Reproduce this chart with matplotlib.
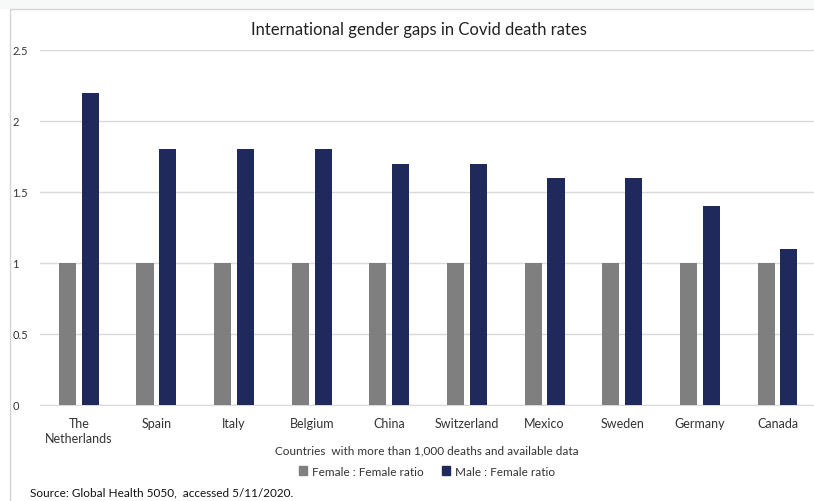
import numpy as np
import matplotlib.pyplot as plt
from matplotlib.patches import Patch, Rectangle

countries = ['The\nNetherlands', 'Spain', 'Italy', 'Belgium', 'China',
             'Switzerland', 'Mexico', 'Sweden', 'Germany', 'Canada']
female_ratio = [1, 1, 1, 1, 1, 1, 1, 1, 1, 1]
male_ratio = [2.2, 1.8, 1.8, 1.8, 1.7, 1.7, 1.6, 1.6, 1.4, 1.1]
yticks = [0, 0.5, 1, 1.5, 2, 2.5]
ytick_labels = ['0', '0.5', '1', '1.5', '2', '2.5']

plt.rcParams['font.family'] = ['Lato', 'DejaVu Sans']

gray = '#7f7f7f'
navy = '#1f295b'
grid_c = '#d9d9d9'

fig = plt.figure(figsize=(8.14, 5.02), dpi=100)

# light strip at the top and the chart border
fig.patches.append(Rectangle((0, 1 - 10 / 502), 1, 10 / 502, transform=fig.transFigure,
                             facecolor='#f7f9f9', edgecolor='none', zorder=0))
fig.patches.append(Rectangle((10 / 814, -0.01), 1.0, 1 - 10 / 502 + 0.01, transform=fig.transFigure,
                             facecolor='none', edgecolor='#d4d4d4', lw=1, zorder=1))

ax = fig.add_axes([40 / 814, 96 / 502, 774 / 814, 355 / 502])
x = np.arange(len(countries))
w = 0.22
ax.bar(x - 0.147, female_ratio, w, color=gray, label='Female : Female ratio', zorder=3)
ax.bar(x + 0.147, male_ratio, w, color=navy, label='Male : Female ratio', zorder=3)

ax.set_xlim(-0.5, 9.47)
ax.set_ylim(0, 2.5)
ax.set_yticks(yticks)
ax.set_yticklabels(ytick_labels, ha='left', fontsize=8, color='#333333')
ax.tick_params(axis='y', length=0, pad=20)
ax.set_xticks(x)
ax.set_xticklabels(countries, fontsize=9, color='#333333', linespacing=1.3)
ax.tick_params(axis='x', length=0, pad=9)
ax.grid(axis='y', color=grid_c, lw=1, zorder=0)
for s in ['top', 'right', 'left']:
    ax.spines[s].set_visible(False)
ax.spines['bottom'].set_color(grid_c)

fig.text(419 / 814, 1 - 30 / 502, 'International gender gaps in Covid death rates',
         ha='center', va='center', fontsize=12, color='#222222')
fig.text(427 / 814, 1 - 451 / 502, 'Countries  with more than 1,000 deaths and available data',
         ha='center', va='center', fontsize=8.5, color='#333333')

handles = [Patch(color=gray, label='Female : Female ratio'),
           Patch(color=navy, label='Male : Female ratio')]
fig.legend(handles=handles, loc='center', bbox_to_anchor=(427 / 814, 1 - 472 / 502),
           ncol=2, frameon=False, fontsize=8.5, handlelength=0.7, handleheight=0.7,
           handletextpad=0.4, columnspacing=1.5, labelcolor='#333333')

fig.text(30 / 814, 1 - 493 / 502, 'Source: Global Health 5050,  accessed 5/11/2020.',
         ha='left', va='center', fontsize=8.5, color='#111111')

fig.savefig('out.png', dpi=100)
